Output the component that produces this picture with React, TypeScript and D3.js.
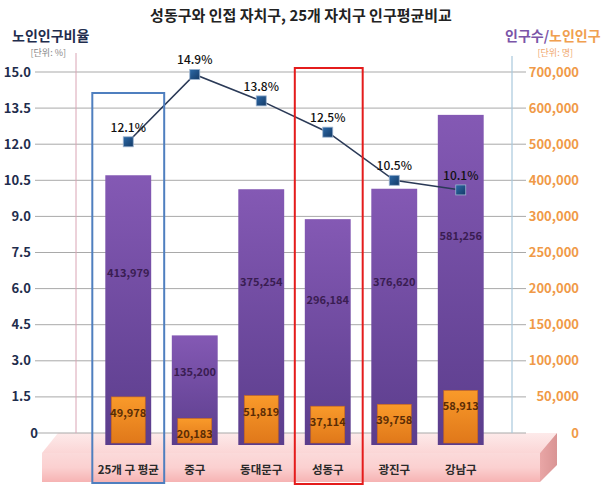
import React from "react";
import * as d3 from "d3";

const categories = ["25개 구 평균", "중구", "동대문구", "성동구", "광진구", "강남구"];
const population = [413979, 135200, 375254, 296184, 376620, 581256];
const elderly = [49978, 20183, 51819, 37114, 39758, 58913];
const elderlyRatio = [12.1, 14.9, 13.8, 12.5, 10.5, 10.1];
const leftTicks = [0, 1.5, 3, 4.5, 6, 7.5, 9, 10.5, 12, 13.5, 15];
const rightTicks = [0, 50000, 100000, 150000, 200000, 250000, 300000, 400000, 500000, 600000, 700000];
const highlightBlue = "25개 구 평균";
const highlightRed = "성동구";

const W = 603;
const H = 486;
const FONT = "'Noto Sans CJK KR', 'Noto Sans', sans-serif";

export default function App() {
  const yL = d3.scaleLinear().domain([0, 15]).range([433, 72]);
  const yR = d3.scaleLinear().domain(rightTicks).range(leftTicks.map((t) => yL(t)));
  const x = d3.scaleBand<string>().domain(categories).range([95, 494]).paddingInner(0.31).paddingOuter(0.155);
  const bw = x.bandwidth();
  const base = yL(0);
  const sink = 12;
  const ow = bw * 0.74;
  const cx = (c: string) => (x(c) as number) + bw / 2;

  const line = d3
    .line<number>()
    .x((_, i) => cx(categories[i]))
    .y((d) => yL(d));

  const fmt = d3.format(",");

  const blueX = x(highlightBlue) as number;
  const redX = x(highlightRed) as number;

  return (
    <svg width={W} height={H} style={{ position: "absolute", left: 0, top: 0, background: "#fff" }} fontFamily={FONT}>
      <defs>
        <linearGradient id="purple" x1="0" y1="0" x2="0" y2="1">
          <stop offset="0" stopColor="#8459b4" />
          <stop offset="1" stopColor="#5b3d8c" />
        </linearGradient>
        <linearGradient id="orange" x1="0" y1="0" x2="0" y2="1">
          <stop offset="0" stopColor="#f99a2a" />
          <stop offset="1" stopColor="#e0781a" />
        </linearGradient>
        <linearGradient id="front" x1="0" y1="0" x2="0" y2="1">
          <stop offset="0" stopColor="#fbdada" />
          <stop offset="0.5" stopColor="#fbd0d0" />
          <stop offset="1" stopColor="#f6b3b3" />
        </linearGradient>
        <linearGradient id="topface" x1="0" y1="0" x2="0" y2="1">
          <stop offset="0" stopColor="#fdeaea" />
          <stop offset="1" stopColor="#fbd6d6" />
        </linearGradient>
        <linearGradient id="side" x1="0" y1="0" x2="1" y2="0">
          <stop offset="0" stopColor="#e9a6a6" />
          <stop offset="1" stopColor="#d99494" />
        </linearGradient>
        <linearGradient id="marker" x1="0" y1="0" x2="1" y2="1">
          <stop offset="0" stopColor="#2d6aa8" />
          <stop offset="1" stopColor="#143a66" />
        </linearGradient>
      </defs>

      {/* Title */}
      <text x={301} y={21} textAnchor="middle" fontSize={15} fontWeight={700} fill="#222">
        성동구와 인접 자치구, 25개 자치구 인구평균비교
      </text>
      <text x={12} y={41} fontSize={14} fontWeight={700} fill="#1f2d4d">노인인구비율</text>
      <text x={66} y={56} fontSize={9} textAnchor="end" fill="#888">[단위: %]</text>
      <text x={505} y={41} fontSize={14} fontWeight={700}>
        <tspan fill="#7b55a8">인구수/</tspan>
        <tspan fill="#f0a050">노인인구</tspan>
      </text>
      <text x={573} y={56} fontSize={9} textAnchor="end" fill="#f0a870">[단위: 명]</text>

      {/* Platform */}
      <polygon points="42,453 58,433 557,433 540,453" fill="url(#topface)" />
      <rect x={42} y={453} width={498} height={29} fill="url(#front)" />
      <polygon points="540,453 557,433 557,465 540,482" fill="url(#side)" />

      {/* Gridlines */}
      {leftTicks.map((t) => (
        <line key={"g" + t} x1={35} x2={526} y1={yL(t)} y2={yL(t)} stroke="#a9a9a9" strokeWidth={1} />
      ))}

      {/* Axis lines */}
      <line x1={76} x2={76} y1={53} y2={base} stroke="#d9a4b4" strokeWidth={1} />
      <line x1={512} x2={512} y1={56} y2={base} stroke="#a8c8dc" strokeWidth={1.2} />

      {/* Left tick labels */}
      {leftTicks.map((t) => (
        <text key={"l" + t} x={t === 0 ? 38 : 31} y={yL(t) + 4.5} textAnchor="end" fontSize={13} fontWeight={700} fill="#1f2d4d">
          {t === 0 ? "0" : t.toFixed(1)}
        </text>
      ))}
      {/* Right tick labels */}
      {rightTicks.map((t) => (
        <text key={"r" + t} x={579} y={yR(t) + 4.5} textAnchor="end" fontSize={13} fontWeight={600} fill="#f09a48">
          {fmt(t)}
        </text>
      ))}

      {/* Bars */}
      {categories.map((c, i) => {
        const top = yR(population[i]);
        const otop = yR(elderly[i]);
        const xc = cx(c);
        return (
          <g key={"b" + c}>
            <rect x={xc - bw / 2} y={top} width={bw} height={base + sink - top} fill="url(#purple)" />
            <rect x={xc - ow / 2} y={otop} width={ow} height={base + sink - 2 - otop} fill="url(#orange)" stroke="#c8661a" strokeWidth={0.6} />
            <text x={xc} y={top + (base - top) * 0.38 + 4} textAnchor="middle" fontSize={11} fontWeight={700} fill="#3a1d52">
              {fmt(population[i])}
            </text>
            <text x={xc} y={otop + 20} textAnchor="middle" fontSize={11} fontWeight={700} fill="#5a2c05">
              {fmt(elderly[i])}
            </text>
            <text x={xc} y={474} textAnchor="middle" fontSize={11.5} fontWeight={700} fill="#2a2a2a">
              {c}
            </text>
          </g>
        );
      })}

      {/* Line */}
      <path d={line(elderlyRatio) || ""} fill="none" stroke="#2b3a57" strokeWidth={1.6} />
      {elderlyRatio.map((v, i) => {
        const xc = cx(categories[i]);
        const yc = yL(v);
        return (
          <g key={"p" + i}>
            <rect x={xc - 5} y={yc - 5} width={10} height={10} fill="url(#marker)" stroke="#9cb3cf" strokeWidth={0.8} />
            <text x={xc} y={yc - 10} textAnchor="middle" fontSize={12} fontWeight={500} fill="#111">
              {v.toFixed(1)}%
            </text>
          </g>
        );
      })}

      {/* Highlight boxes */}
      <rect x={blueX - 13} y={93} width={bw + 26} height={390} fill="none" stroke="#4f7fbf" strokeWidth={2} />
      <rect x={redX - 10} y={68} width={bw + 22} height={416} fill="none" stroke="#e41c1c" strokeWidth={2} />
    </svg>
  );
}
